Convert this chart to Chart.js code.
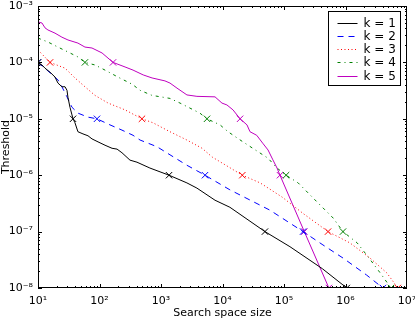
<!DOCTYPE html>
<html>
<head>
<meta charset="utf-8">
<script src="https://cdn.jsdelivr.net/npm/chart.js@4.4.0/dist/chart.umd.min.js"></script>
<style>
  body { margin: 0; background: #fff; }
  canvas { display: block; }
</style>
</head>
<body>
<canvas id="threshold-chart" width="415" height="322"></canvas>
<script>
// values (log-log axes)
const seriesLabels = ['k = 1', 'k = 2', 'k = 3', 'k = 4', 'k = 5'];

const k1X = [10, 11.6, 13, 15.7, 18.9, 21.1, 24.5, 27.5, 29.6, 30.7, 33.1, 35.7, 37.1, 39.9, 44.6, 53.9, 65, 75.6, 94.6, 123, 160, 193, 232, 313, 407, 660, 1350, 2640, 3840, 7560, 13200, 49000, 125000, 420000, 1050000];
const k1Y = [1e-4, 9.0e-5, 7.9e-5, 6.7e-5, 5.5e-5, 4.3e-5, 3.7e-5, 3.7e-5, 3.2e-5, 2.4e-5, 1.6e-5, 1.17e-5, 1e-5, 8.5e-6, 5.9e-6, 5.4e-6, 5.0e-6, 4.4e-6, 3.9e-6, 3.4e-6, 3.0e-6, 2.9e-6, 2.5e-6, 1.85e-6, 1.7e-6, 1.34e-6, 1e-6, 7.3e-7, 5.9e-7, 3.6e-7, 2.7e-7, 1e-7, 5.4e-8, 2.2e-8, 1e-8];

const k2X = [10, 14, 21.1, 24.5, 29.6, 35.7, 44.6, 65, 91, 148, 232, 351, 457, 860, 1400, 2640, 5190, 13200, 59000, 204000, 430000, 910000, 2200000, 4060000];
const k2Y = [1e-4, 7.3e-5, 4.9e-5, 3.7e-5, 2.45e-5, 1.6e-5, 1.26e-5, 1.07e-5, 1e-5, 7.8e-6, 6.3e-6, 5.1e-6, 4.2e-6, 3.2e-6, 2.3e-6, 1.5e-6, 1e-6, 5.5e-7, 2.4e-7, 1e-7, 5.8e-8, 3.4e-8, 1.7e-8, 1e-8];

const k3X = [10, 15.7, 27.5, 39.9, 58, 84.5, 138, 260, 490, 740, 1400, 2640, 4660, 6800, 21000, 41000, 93000, 204000, 520000, 1180000, 2500000, 4700000, 7100000];
const k3Y = [1.66e-4, 1e-4, 7.9e-5, 5.3e-5, 3.7e-5, 2.6e-5, 1.9e-5, 1.44e-5, 1e-5, 8.5e-6, 5.9e-6, 4.2e-6, 3.0e-6, 2.1e-6, 1e-6, 7.3e-7, 4.1e-7, 2.1e-7, 1e-7, 6.3e-8, 3.4e-8, 1.85e-8, 1e-8];

const k4X = [10, 14.5, 21.1, 30.7, 44.6, 58, 84.5, 123, 199, 340, 457, 715, 1400, 2040, 4290, 5600, 9130, 12300, 21500, 38000, 55000, 77000, 108000, 170000, 360000, 630000, 910000, 1550000, 2340000, 3600000, 5500000];
const k4Y = [2.7e-4, 2.3e-4, 1.87e-4, 1.53e-4, 1.25e-4, 1e-4, 9.0e-5, 7.3e-5, 5.5e-5, 4.1e-5, 3.2e-5, 2.6e-5, 2.3e-5, 1.9e-5, 1.26e-5, 1e-5, 7.8e-6, 5.9e-6, 3.9e-6, 2.6e-6, 2.0e-6, 1.34e-6, 1e-6, 7.3e-7, 3.2e-7, 1.74e-7, 1e-7, 6.3e-8, 3.55e-8, 1.9e-8, 1e-8];

const k5X = [10, 11.6, 13, 14.5, 18.9, 24.5, 30.7, 44.6, 58, 75.5, 110, 166, 260, 351, 513, 715, 1160, 1400, 1820, 2640, 3840, 7560, 9800, 11800, 14800, 19300, 25000, 28000, 36000, 45000, 55000, 66000, 77000, 86000, 214000, 537000];
const k5Y = [5.2e-4, 5.0e-4, 4.1e-4, 3.76e-4, 3.3e-4, 2.8e-4, 2.5e-4, 2.2e-4, 1.87e-4, 1.8e-4, 1.47e-4, 1e-4, 8.3e-5, 7.3e-5, 6.0e-5, 5.3e-5, 4.7e-5, 4.3e-5, 3.5e-5, 2.65e-5, 2.5e-5, 2.45e-5, 1.9e-5, 1.76e-5, 1.44e-5, 1e-5, 7.8e-6, 5.9e-6, 5.1e-6, 3.7e-6, 2.8e-6, 1.87e-6, 1.34e-6, 1e-6, 1e-7, 1e-8];

const xTickValues = [1e1, 1e2, 1e3, 1e4, 1e5, 1e6, 1e7];
const xTickLabels = ['10¹', '10²', '10³', '10⁴', '10⁵', '10⁶', '10⁷'];
const yTickValues = [1e-8, 1e-7, 1e-6, 1e-5, 1e-4, 1e-3];
const yTickLabels = ['10⁻⁸', '10⁻⁷', '10⁻⁶', '10⁻⁵', '10⁻⁴', '10⁻³'];

const FONT = 'DejaVu Sans';

// markers sit where the threshold hits a whole decade
function isDecade(v) {
    const l = Math.log10(v);
    return Math.abs(l - Math.round(l)) < 1e-9;
}

function makeSet(label, xs, ys, color, dash) {
    return {
        label: label,
        data: xs.map((x, i) => ({ x: x, y: ys[i] })),
        borderColor: color,
        backgroundColor: color,
        borderWidth: 1,
        borderDash: dash,
        tension: 0,
        fill: false,
        pointStyle: 'crossRot',
        pointBorderColor: color,
        pointBorderWidth: 1,
        pointRadius: ctx => isDecade(ys[ctx.dataIndex]) ? 4.5 : 0,
        pointHoverRadius: 0
    };
}

const frameTicks = {
    id: 'frameTicks',
    afterDatasetsDraw(chart) {
        const { ctx, chartArea: a, scales: { x, y } } = chart;
        ctx.save();
        ctx.strokeStyle = '#000';
        ctx.lineWidth = 1;
        ctx.setLineDash([]);
        ctx.beginPath();
        for (let e = 1; e < 7; e++) {
            for (let m = 1; m < 10; m++) {
                const px = Math.round(x.getPixelForValue(m * Math.pow(10, e))) + 0.5;
                const len = m === 1 ? 4 : 2;
                ctx.moveTo(px, a.bottom); ctx.lineTo(px, a.bottom - len);
                ctx.moveTo(px, a.top); ctx.lineTo(px, a.top + len);
            }
        }
        for (let e = -8; e < -3; e++) {
            for (let m = 1; m < 10; m++) {
                const py = Math.round(y.getPixelForValue(m * Math.pow(10, e))) + 0.5;
                const len = m === 1 ? 4 : 2;
                ctx.moveTo(a.left, py); ctx.lineTo(a.left + len, py);
                ctx.moveTo(a.right, py); ctx.lineTo(a.right - len, py);
            }
        }
        ctx.stroke();
        ctx.strokeRect(a.left + 0.5, a.top + 0.5, a.right - a.left - 1, a.bottom - a.top - 1);

        // legend box, top right inside the axes
        const bx = a.right - 78.5, by = a.top + 5.5, bw = 72, bh = 74;
        ctx.fillStyle = '#fff';
        ctx.fillRect(bx, by, bw, bh);
        ctx.strokeRect(bx, by, bw, bh);
        ctx.font = '12px "' + FONT + '"';
        ctx.textBaseline = 'middle';
        ctx.textAlign = 'left';
        chart.data.datasets.forEach((ds, i) => {
            const ry = Math.round(by + 11 + i * 13.3) + 0.5;
            ctx.strokeStyle = ds.borderColor;
            ctx.setLineDash(ds.borderDash || []);
            ctx.beginPath();
            ctx.moveTo(bx + 9, ry);
            ctx.lineTo(bx + 29, ry);
            ctx.stroke();
            ctx.fillStyle = '#000';
            ctx.fillText(ds.label, bx + 35, ry);
        });
        ctx.restore();
    }
};

new Chart(document.querySelector('#threshold-chart').getContext('2d'), {
    type: 'line',
    data: {
        datasets: [
            makeSet(seriesLabels[0], k1X, k1Y, '#000000', []),
            makeSet(seriesLabels[1], k2X, k2Y, '#0000ff', [6, 5]),
            makeSet(seriesLabels[2], k3X, k3Y, '#ff0000', [1, 2.5]),
            makeSet(seriesLabels[3], k4X, k4Y, '#008000', [3, 4, 1, 4]),
            makeSet(seriesLabels[4], k5X, k5Y, '#bf00bf', [])
        ]
    },
    options: {
        responsive: false,
        animation: false,
        layout: { padding: { top: 6, right: 8, bottom: 0, left: 0 } },
        plugins: { legend: { display: false }, tooltip: { enabled: false } },
        scales: {
            x: {
                type: 'logarithmic',
                min: 10,
                max: 1e7,
                grid: { display: false, drawTicks: false },
                border: { display: false },
                afterBuildTicks: s => { s.ticks = xTickValues.map(v => ({ value: v })); },
                afterFit: s => { s.height = 34; s.paddingLeft = 0; s.paddingRight = 0; },
                ticks: {
                    autoSkip: false,
                    maxRotation: 0,
                    padding: 7,
                    color: '#000',
                    font: { family: FONT, size: 11 },
                    callback: v => xTickLabels[xTickValues.indexOf(v)]
                },
                title: {
                    display: true,
                    text: 'Search space size',
                    color: '#000',
                    font: { family: FONT, size: 11 },
                    padding: { top: 0, bottom: 2 }
                }
            },
            y: {
                type: 'logarithmic',
                min: 1e-8,
                max: 1e-3,
                grid: { display: false, drawTicks: false },
                border: { display: false },
                afterBuildTicks: s => { s.ticks = yTickValues.map(v => ({ value: v })); },
                afterFit: s => { s.width = 38; s.paddingTop = 0; s.paddingBottom = 0; },
                ticks: {
                    autoSkip: false,
                    padding: 5,
                    color: '#000',
                    font: { family: FONT, size: 11 },
                    callback: v => yTickLabels[yTickValues.indexOf(v)]
                },
                title: {
                    display: true,
                    text: 'Threshold',
                    color: '#000',
                    font: { family: FONT, size: 11 },
                    padding: { top: 0, bottom: 0 }
                }
            }
        }
    },
    plugins: [frameTicks]
});
</script>
</body>
</html>
